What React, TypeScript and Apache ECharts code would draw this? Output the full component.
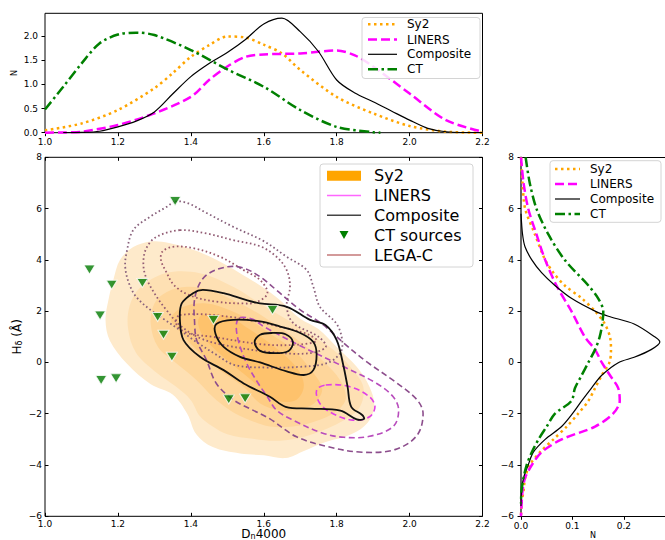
import React, { useEffect, useRef } from "react";
import * as echarts from "echarts";

const FONT = "DejaVu Sans";

// ---------- top panel KDE (Dn4000, N) ----------
const TOP_SY2 = [[1.0,0.05],[1.1,0.19],[1.2,0.47],[1.3,0.92],[1.35,1.23],[1.4,1.57],[1.45,1.81],[1.5,1.99],[1.55,1.97],[1.6,1.82],[1.65,1.64],[1.7,1.3],[1.8,0.74],[1.9,0.4],[2.0,0.14],[2.1,0.02],[2.2,0.0]];
const TOP_LINERS = [[1.0,0],[1.05,0.005],[1.1,0.02],[1.2,0.16],[1.3,0.4],[1.4,0.74],[1.45,1.09],[1.5,1.37],[1.55,1.57],[1.6,1.62],[1.7,1.64],[1.8,1.7],[1.85,1.6],[1.9,1.37],[2.0,0.81],[2.1,0.26],[2.2,0.02]];
const TOP_COMPOSITE = [[1.05,0.0],[1.1,0.005],[1.15,0.03],[1.2,0.12],[1.25,0.24],[1.3,0.43],[1.35,0.8],[1.4,1.16],[1.45,1.43],[1.5,1.66],[1.55,1.93],[1.6,2.25],[1.65,2.37],[1.7,2.09],[1.75,1.68],[1.8,1.09],[1.85,0.82],[1.9,0.64],[1.95,0.45],[2.0,0.26],[2.05,0.09],[2.1,0.02],[2.2,0.0]];
const TOP_CT = [[1.0,0.48],[1.05,0.95],[1.1,1.43],[1.15,1.85],[1.2,2.03],[1.25,2.07],[1.3,2.02],[1.4,1.71],[1.5,1.31],[1.6,0.95],[1.7,0.47],[1.8,0.12],[1.9,0.01],[1.92,0.0]];

// ---------- right panel KDE (N, Hdelta) ----------
const RIGHT_SY2 = [[0,8],[0.003,7],[0.008,6],[0.027,5],[0.047,4],[0.063,3.5],[0.085,3],[0.118,2.5],[0.144,2],[0.163,1.5],[0.173,1],[0.175,0.5],[0.172,0],[0.157,-0.5],[0.144,-1],[0.131,-1.5],[0.111,-2],[0.089,-2.5],[0.063,-3],[0.037,-3.5],[0.017,-4],[0.008,-4.5],[0.005,-5],[0.001,-5.5],[0,-6]];
const RIGHT_LINERS = [[0,8],[0.005,7],[0.014,6],[0.03,5],[0.047,4],[0.069,3],[0.098,2],[0.124,1],[0.144,0.5],[0.157,0],[0.173,-0.5],[0.189,-1],[0.192,-1.5],[0.179,-2],[0.144,-2.5],[0.079,-3],[0.04,-3.5],[0.021,-4],[0.008,-4.5],[0.003,-5],[0,-6]];
const RIGHT_COMPOSITE = [[0,5.8],[0.003,5],[0.008,4.5],[0.021,4],[0.04,3.5],[0.066,3],[0.098,2.5],[0.144,2],[0.17,1.8],[0.22,1.5],[0.26,1.0],[0.27,0.8],[0.253,0.5],[0.22,0.2],[0.19,0],[0.157,-0.5],[0.137,-1],[0.118,-1.5],[0.1,-2],[0.079,-2.5],[0.047,-3],[0.024,-3.5],[0.014,-4],[0.005,-4.5],[0.001,-5],[0,-5.6]];
const RIGHT_CT = [[0.009,8],[0.017,7],[0.03,6],[0.053,5],[0.085,4],[0.131,3],[0.15,2.5],[0.16,2],[0.158,1.5],[0.153,1],[0.144,0.5],[0.131,0],[0.118,-0.5],[0.105,-1],[0.098,-1.5],[0.066,-2],[0.05,-2.5],[0.034,-3],[0.021,-3.5],[0.011,-4],[0.005,-4.5],[0.001,-5],[0,-5.5]];

// ---------- main panel: CT sources ----------
const CT_SOURCES = [[1.357,6.29],[1.122,3.62],[1.183,3.03],[1.267,3.1],[1.151,1.83],[1.309,1.77],[1.325,1.08],[1.462,1.66],[1.624,2.05],[1.348,0.22],[1.154,-0.69],[1.195,-0.62],[1.504,-1.44],[1.549,-1.4]];

// ---------- main panel: Sy2 filled contours (outer -> inner) ----------
const SY2_L1 = [[1.29,4.72],[1.34,4.66],[1.41,4.38],[1.47,4.0],[1.535,3.48],[1.59,3.0],[1.645,2.43],[1.70,1.7],[1.75,1.3],[1.80,0.6],[1.855,-0.17],[1.89,-0.95],[1.903,-1.7],[1.885,-2.35],[1.84,-2.8],[1.77,-3.1],[1.71,-3.45],[1.66,-3.73],[1.6,-3.62],[1.535,-3.55],[1.46,-3.3],[1.415,-2.8],[1.39,-2.0],[1.35,-1.25],[1.29,-0.85],[1.225,-0.05],[1.178,0.85],[1.166,1.65],[1.175,2.5],[1.187,3.2],[1.206,4.0],[1.242,4.5]];
const SY2_L2 = [[1.33,3.48],[1.425,3.48],[1.516,2.95],[1.59,2.3],[1.66,1.7],[1.736,1.0],[1.79,0.5],[1.845,-0.3],[1.873,-0.95],[1.864,-1.73],[1.82,-2.25],[1.727,-2.83],[1.645,-3.05],[1.57,-2.98],[1.50,-2.8],[1.46,-2.5],[1.425,-2.1],[1.40,-1.47],[1.36,-0.95],[1.306,-0.4],[1.25,0.37],[1.228,1.3],[1.232,2.2],[1.26,2.9]];
const SY2_L3 = [[1.39,2.95],[1.45,2.83],[1.516,2.43],[1.57,2.04],[1.64,1.4],[1.70,0.8],[1.76,0.1],[1.81,-0.7],[1.825,-1.4],[1.80,-1.9],[1.74,-2.3],[1.68,-2.5],[1.617,-2.5],[1.562,-2.25],[1.507,-1.86],[1.46,-1.34],[1.416,-0.69],[1.36,-0.03],[1.31,0.6],[1.29,1.5],[1.30,2.3],[1.334,2.75]];
const SY2_L4 = [[1.38,2.17],[1.443,2.3],[1.507,2.04],[1.562,1.66],[1.62,1.1],[1.68,0.5],[1.73,-0.3],[1.76,-1.0],[1.745,-1.5],[1.71,-1.78],[1.645,-1.86],[1.59,-1.6],[1.545,-0.95],[1.48,-0.3],[1.425,0.37],[1.37,1.2],[1.345,1.7]];
const SY2_L5 = [[1.43,1.85],[1.50,1.8],[1.56,1.3],[1.63,0.6],[1.69,-0.2],[1.71,-0.9],[1.69,-1.45],[1.64,-1.5],[1.60,-1.1],[1.55,-0.5],[1.49,0.2],[1.44,0.9],[1.42,1.5]];
const SY2_LEVELS = [SY2_L1, SY2_L2, SY2_L3, SY2_L4, SY2_L5];
const SY2_COLORS = ["#feeacb", "#fee0b3", "#fed69b", "#fecc83", "#fec26c"];

// ---------- LEGA-C dotted contours ----------
const LEGAC_L1 = [[1.357,6.27],[1.39,6.22],[1.443,5.83],[1.516,5.29],[1.60,4.73],[1.663,4.12],[1.718,3.6],[1.736,2.95],[1.754,2.17],[1.80,1.5],[1.815,0.87],[1.81,0.37],[1.773,-0.03],[1.70,-0.17],[1.61,-0.2],[1.52,-0.1],[1.47,0.3],[1.41,0.85],[1.37,1.26],[1.33,1.65],[1.29,2.04],[1.25,2.56],[1.23,3.1],[1.22,3.73],[1.224,4.3],[1.242,5.16],[1.288,5.68],[1.334,6.07]];
const LEGAC_L2 = [[1.37,5.16],[1.443,5.03],[1.516,4.77],[1.59,4.53],[1.635,4.12],[1.663,3.6],[1.672,2.95],[1.663,2.2],[1.68,1.55],[1.75,1.0],[1.77,0.6],[1.72,0.35],[1.61,0.42],[1.49,0.68],[1.425,0.95],[1.37,1.45],[1.33,2.1],[1.30,2.7],[1.275,3.4],[1.27,4.0],[1.28,4.51],[1.306,4.9]];
const LEGAC_L3A = [[1.35,4.51],[1.406,4.46],[1.48,4.12],[1.545,3.6],[1.59,3.21],[1.61,2.7],[1.58,2.35],[1.545,2.3],[1.47,2.37],[1.40,2.6],[1.355,3.0],[1.33,3.6],[1.318,4.0],[1.322,4.32]];
const LEGAC_L3B = [[1.37,1.85],[1.507,1.78],[1.645,1.39],[1.72,1.1],[1.745,0.85],[1.70,0.7],[1.60,0.7],[1.46,1.0],[1.39,1.15],[1.36,1.5]];
const LEGAC_LEVELS = [LEGAC_L1, LEGAC_L2, LEGAC_L3A, LEGAC_L3B];
const LEGAC_COLORS = ["#88617c", "#925c74", "#9c5a6c", "#9c5a6c"];

// ---------- LINERS dashed contours ----------
const LINERS_L1 = [[1.50,3.73],[1.545,3.68],[1.59,3.34],[1.635,2.82],[1.70,2.05],[1.76,1.5],[1.82,0.75],[1.88,0.05],[1.96,-0.75],[2.02,-1.45],[2.037,-2.0],[2.02,-2.85],[1.96,-3.4],[1.87,-3.5],[1.78,-3.3],[1.69,-2.9],[1.617,-2.2],[1.57,-1.86],[1.516,-1.45],[1.47,-0.82],[1.443,0.09],[1.416,0.87],[1.41,1.65],[1.41,2.43],[1.425,3.1],[1.45,3.48]];
const LINERS_L2 = [[1.535,1.75],[1.57,1.68],[1.60,1.4],[1.70,0.65],[1.82,-0.17],[1.91,-0.82],[1.955,-1.34],[1.97,-1.86],[1.955,-2.5],[1.89,-2.88],[1.82,-2.92],[1.76,-2.75],[1.68,-2.25],[1.635,-1.86],[1.61,-1.34],[1.585,-0.82],[1.553,-0.03],[1.53,0.87],[1.525,1.5]];
const LINERS_L3 = [[1.77,-0.88],[1.837,-0.95],[1.89,-1.34],[1.905,-1.73],[1.89,-2.12],[1.845,-2.25],[1.79,-2.0],[1.754,-1.6],[1.745,-1.08]];
const LINERS_LEVELS = [LINERS_L1, LINERS_L2, LINERS_L3];
const LINERS_COLORS = ["#8c4d8c", "#b84cbc", "#e040e6"];

// ---------- Composite solid contours ----------
const COMP_L1 = [[1.406,2.7],[1.433,2.83],[1.49,2.7],[1.553,2.43],[1.59,2.3],[1.663,2.17],[1.727,1.66],[1.77,1.45],[1.80,0.87],[1.817,-0.03],[1.83,-0.95],[1.84,-1.73],[1.87,-2.05],[1.875,-2.2],[1.855,-2.22],[1.81,-1.88],[1.727,-1.8],[1.66,-1.73],[1.617,-1.34],[1.545,-0.82],[1.49,-0.3],[1.425,0.22],[1.38,0.87],[1.37,1.66],[1.375,2.3]];
const COMP_L2 = [[1.47,1.5],[1.516,1.66],[1.59,1.6],[1.645,1.4],[1.70,1.15],[1.736,0.8],[1.745,0.3],[1.736,-0.3],[1.71,-0.49],[1.663,-0.35],[1.59,0.0],[1.535,0.22],[1.49,0.61],[1.468,1.1]];
const COMP_L3 = [[1.59,1.08],[1.625,1.15],[1.66,1.1],[1.68,0.8],[1.668,0.45],[1.63,0.36],[1.59,0.45],[1.575,0.8]];
const COMP_LEVELS = [COMP_L1, COMP_L2, COMP_L3];

// ---------- ticks ----------
const MAIN_X_TICKS = [1.0, 1.2, 1.4, 1.6, 1.8, 2.0, 2.2];
const MAIN_Y_TICKS = [-6, -4, -2, 0, 2, 4, 6, 8];
const TOP_Y_TICKS = [0, 0.5, 1.0, 1.5, 2.0];
const RIGHT_X_TICKS = [0, 0.1, 0.2];

const COL = { sy2: "#ffa500", liners: "#ff00ff", comp: "#000000", ct: "#008000" };
const DOT = [2.5, 3.5];
const DASH = [9, 4];
const DASHDOT = [10, 3.5, 2.5, 3.5];

function contourSeries(levels: number[][][], styleFor: (i: number) => any, z: number) {
  return {
    type: "custom",
    xAxisIndex: 1,
    yAxisIndex: 1,
    z,
    silent: true,
    clip: true,
    data: levels.map((p, i) => [p[0][0], p[0][1], i]),
    encode: { x: 0, y: 1 },
    renderItem: (params: any, api: any) => {
      const i = api.value(2);
      const pts = levels[i].map((pt) => api.coord(pt));
      return { type: "polygon", shape: { points: pts, smooth: 0.35 }, style: styleFor(i) };
    },
  };
}

const tickFont = { fontFamily: FONT, fontSize: 9, color: "#000" };
const fmt1 = (v: number) => v.toFixed(1);
const fmtMinus = (v: number) => String(v).replace("-", "\u2212");

function legendBlock(x: number, y: number, w: number, h: number, items: any[], sw: [number, number], tx: number, fs: number) {
  const els: any[] = [
    { type: "rect", shape: { x, y, width: w, height: h, r: 3 }, style: { fill: "rgba(255,255,255,0.85)", stroke: "#d4d4d4", lineWidth: 1 }, z: 100 },
  ];
  items.forEach((it) => {
    if (it.kind === "line") {
      els.push({ type: "line", shape: { x1: sw[0], y1: it.y, x2: sw[1], y2: it.y }, style: { stroke: it.color, lineWidth: it.width, lineDash: it.dash || null }, z: 101 });
    } else if (it.kind === "rect") {
      els.push({ type: "rect", shape: { x: sw[0], y: it.y - 5, width: sw[1] - sw[0], height: 10 }, style: { fill: it.color }, z: 101 });
    } else if (it.kind === "tri") {
      const cx = (sw[0] + sw[1]) / 2;
      els.push({ type: "polygon", shape: { points: [[cx - 4.5, it.y - 4], [cx + 4.5, it.y - 4], [cx, it.y + 4]] }, style: { fill: it.color }, z: 101 });
    }
    els.push({ type: "text", x: tx, y: it.y, style: { text: it.label, fontFamily: FONT, fontSize: fs, fill: "#000", verticalAlign: "middle", textAlign: "left" }, z: 101 });
  });
  return els;
}

export default function App() {
  const ref = useRef<HTMLDivElement>(null);
  useEffect(() => {
    const chart = echarts.init(ref.current!, null, { renderer: "svg" });
    const subRich = {
      a: { fontFamily: FONT, fontSize: 12, lineHeight: 14, verticalAlign: "bottom", color: "#000" },
      b: { fontFamily: FONT, fontSize: 8, lineHeight: 2, verticalAlign: "bottom", color: "#000" },
    };
    const option: any = {
      animation: false,
      backgroundColor: "#fff",
      textStyle: { fontFamily: FONT },
      grid: [
        { left: 45, top: 13.3, width: 437.5, height: 119.4, show: true, borderColor: "#000", borderWidth: 1, outerBoundsMode: "none", containLabel: false },
        { left: 45, top: 157.3, width: 437.5, height: 359, show: true, borderColor: "#000", borderWidth: 1, outerBoundsMode: "none", containLabel: false },
        { left: 521, top: 157.3, width: 144, height: 359, show: false, outerBoundsMode: "none", containLabel: false },
      ],
      xAxis: [
        {
          gridIndex: 0, type: "value", min: 1.0, max: 2.2, interval: 0.2,
          axisLine: { show: false, onZero: false },
          axisTick: { show: true, length: 3.5, lineStyle: { color: "#000" } },
          axisLabel: { ...tickFont, margin: 5, formatter: fmt1 },
          splitLine: { show: false },
        },
        {
          gridIndex: 1, type: "value", min: 1.0, max: 2.2, interval: 0.2,
          axisLine: { show: false, onZero: false },
          axisTick: { show: true, inside: true, length: 3.5, lineStyle: { color: "#000" }, customValues: MAIN_X_TICKS },
          axisLabel: { ...tickFont, margin: 3, formatter: fmt1, customValues: MAIN_X_TICKS },
          splitLine: { show: false },
          name: "{a|D}{b|n}{a|4000}", nameLocation: "middle", nameGap: 10, nameMoveOverlap: false,
          nameTextStyle: { color: "#000", rich: subRich },
        },
        {
          gridIndex: 1, type: "value", position: "top", min: 1.0, max: 2.2, interval: 0.2,
          axisLine: { show: false, onZero: false },
          axisTick: { show: true, inside: true, length: 3.5, lineStyle: { color: "#000" }, customValues: MAIN_X_TICKS },
          axisLabel: { show: false },
          splitLine: { show: false },
        },
        {
          gridIndex: 2, type: "value", min: 0, max: 0.28,
          axisLine: { show: true, onZero: false, lineStyle: { color: "#000", width: 1 } },
          axisTick: { show: true, length: 3.5, lineStyle: { color: "#000" }, customValues: RIGHT_X_TICKS },
          axisLabel: { ...tickFont, margin: 5, formatter: fmt1, customValues: RIGHT_X_TICKS },
          splitLine: { show: false },
          name: "N", nameLocation: "middle", nameGap: 15, nameMoveOverlap: false,
          nameTextStyle: { fontFamily: FONT, fontSize: 8, color: "#000", align: "center" },
        },
        {
          gridIndex: 2, type: "value", position: "top", min: 0, max: 0.28,
          axisLine: { show: true, onZero: false, lineStyle: { color: "#000", width: 1 } },
          axisTick: { show: false }, axisLabel: { show: false }, splitLine: { show: false },
        },
      ],
      yAxis: [
        {
          gridIndex: 0, type: "value", min: 0, max: 2.47,
          axisLine: { show: false, onZero: false },
          axisTick: { show: true, length: 3.5, lineStyle: { color: "#000" }, customValues: TOP_Y_TICKS },
          axisLabel: { ...tickFont, margin: 7, formatter: fmt1, customValues: TOP_Y_TICKS },
          splitLine: { show: false },
          name: "N", nameLocation: "middle", nameGap: 27, nameRotate: 90, nameMoveOverlap: false,
          nameTextStyle: { fontFamily: FONT, fontSize: 8, color: "#000" },
        },
        {
          gridIndex: 1, type: "value", min: -6, max: 8, interval: 2,
          axisLine: { show: false, onZero: false },
          axisTick: { show: true, inside: true, length: 3.5, lineStyle: { color: "#000" }, customValues: MAIN_Y_TICKS },
          axisLabel: { ...tickFont, margin: 3, formatter: fmtMinus, customValues: MAIN_Y_TICKS },
          splitLine: { show: false },
          name: "{a|H}{b|\u03b4}{a| (\u00c5)}", nameLocation: "middle", nameGap: 22, nameRotate: 90, nameMoveOverlap: false,
          nameTextStyle: { color: "#000", rich: subRich },
        },
        {
          gridIndex: 1, type: "value", position: "right", min: -6, max: 8, interval: 2,
          axisLine: { show: false, onZero: false },
          axisTick: { show: true, inside: true, length: 3.5, lineStyle: { color: "#000" }, customValues: MAIN_Y_TICKS },
          axisLabel: { show: false },
          splitLine: { show: false },
        },
        {
          gridIndex: 2, type: "value", min: -6, max: 8, interval: 2,
          axisLine: { show: true, onZero: false, lineStyle: { color: "#555", width: 1.8 } },
          axisTick: { show: true, length: 3.5, lineStyle: { color: "#000" }, customValues: MAIN_Y_TICKS },
          axisLabel: { ...tickFont, margin: 7, formatter: fmtMinus, customValues: MAIN_Y_TICKS },
          splitLine: { show: false },
        },
      ],
      series: [
        // top KDEs
        { type: "line", xAxisIndex: 0, yAxisIndex: 0, data: TOP_SY2, symbol: "none", smooth: 0.3, lineStyle: { color: COL.sy2, width: 2.5, type: DOT }, z: 3 },
        { type: "line", xAxisIndex: 0, yAxisIndex: 0, data: TOP_LINERS, symbol: "none", smooth: 0.3, lineStyle: { color: COL.liners, width: 2.5, type: DASH }, z: 3 },
        { type: "line", xAxisIndex: 0, yAxisIndex: 0, data: TOP_COMPOSITE, symbol: "none", smooth: 0.3, lineStyle: { color: COL.comp, width: 1.2 }, z: 3 },
        { type: "line", xAxisIndex: 0, yAxisIndex: 0, data: TOP_CT, symbol: "none", smooth: 0.3, lineStyle: { color: COL.ct, width: 2.5, type: DASHDOT }, z: 3 },
        // right KDEs
        { type: "line", xAxisIndex: 3, yAxisIndex: 3, data: RIGHT_SY2, symbol: "none", smooth: 0.3, lineStyle: { color: COL.sy2, width: 2.5, type: DOT }, z: 3 },
        { type: "line", xAxisIndex: 3, yAxisIndex: 3, data: RIGHT_LINERS, symbol: "none", smooth: 0.3, lineStyle: { color: COL.liners, width: 2.5, type: DASH }, z: 3 },
        { type: "line", xAxisIndex: 3, yAxisIndex: 3, data: RIGHT_COMPOSITE, symbol: "none", smooth: 0.3, lineStyle: { color: COL.comp, width: 1.2 }, z: 3 },
        { type: "line", xAxisIndex: 3, yAxisIndex: 3, data: RIGHT_CT, symbol: "none", smooth: 0.3, lineStyle: { color: COL.ct, width: 2.5, type: DASHDOT }, z: 3 },
        // main contours
        contourSeries(SY2_LEVELS, (i) => ({ fill: SY2_COLORS[i], stroke: "none" }), 1),
        contourSeries(LEGAC_LEVELS, (i) => ({ fill: "none", stroke: LEGAC_COLORS[i], lineWidth: 1.8, lineDash: [1.6, 2.6] }), 2),
        contourSeries(LINERS_LEVELS, (i) => ({ fill: "none", stroke: LINERS_COLORS[i], lineWidth: 1.6, lineDash: [6, 3.5] }), 2),
        contourSeries(COMP_LEVELS, () => ({ fill: "none", stroke: "#111", lineWidth: 1.8 }), 2),
        {
          type: "scatter", xAxisIndex: 1, yAxisIndex: 1, data: CT_SOURCES,
          symbol: "triangle", symbolRotate: 180, symbolSize: [11, 9],
          itemStyle: { color: "#007a00", borderColor: "#fff", borderWidth: 1 }, z: 5,
        },
      ],
      graphic: [
        ...legendBlock(320, 164, 153, 103, [
          { kind: "rect", y: 175.7, color: "#ffa500", label: "Sy2" },
          { kind: "line", y: 195.5, color: "#ff66ff", width: 1.5, label: "LINERS" },
          { kind: "line", y: 215.3, color: "#444", width: 1.5, label: "Composite" },
          { kind: "tri", y: 235, color: "#008000", label: "CT sources" },
          { kind: "line", y: 255, color: "#c47878", width: 1.5, label: "LEGA-C" },
        ], [327, 361], 374, 16),
        ...legendBlock(362, 17.5, 118, 61, [
          { kind: "line", y: 24.3, color: COL.sy2, width: 2.5, dash: DOT, label: "Sy2" },
          { kind: "line", y: 39.5, color: COL.liners, width: 2.5, dash: DASH, label: "LINERS" },
          { kind: "line", y: 54.3, color: COL.comp, width: 1.2, label: "Composite" },
          { kind: "line", y: 69.3, color: COL.ct, width: 2.5, dash: DASHDOT, label: "CT" },
        ], [368, 397], 407, 12),
        ...legendBlock(550, 160.7, 111, 61.6, [
          { kind: "line", y: 169, color: COL.sy2, width: 2.5, dash: DOT, label: "Sy2" },
          { kind: "line", y: 184, color: COL.liners, width: 2.5, dash: DASH, label: "LINERS" },
          { kind: "line", y: 199, color: COL.comp, width: 1.2, label: "Composite" },
          { kind: "line", y: 214, color: COL.ct, width: 2.5, dash: DASHDOT, label: "CT" },
        ], [555, 580], 590, 12),
      ],
    };
    chart.setOption(option);
    return () => chart.dispose();
  }, []);
  return <div ref={ref} style={{ position: "absolute", left: 0, top: 0, width: 665, height: 540 }} />;
}
